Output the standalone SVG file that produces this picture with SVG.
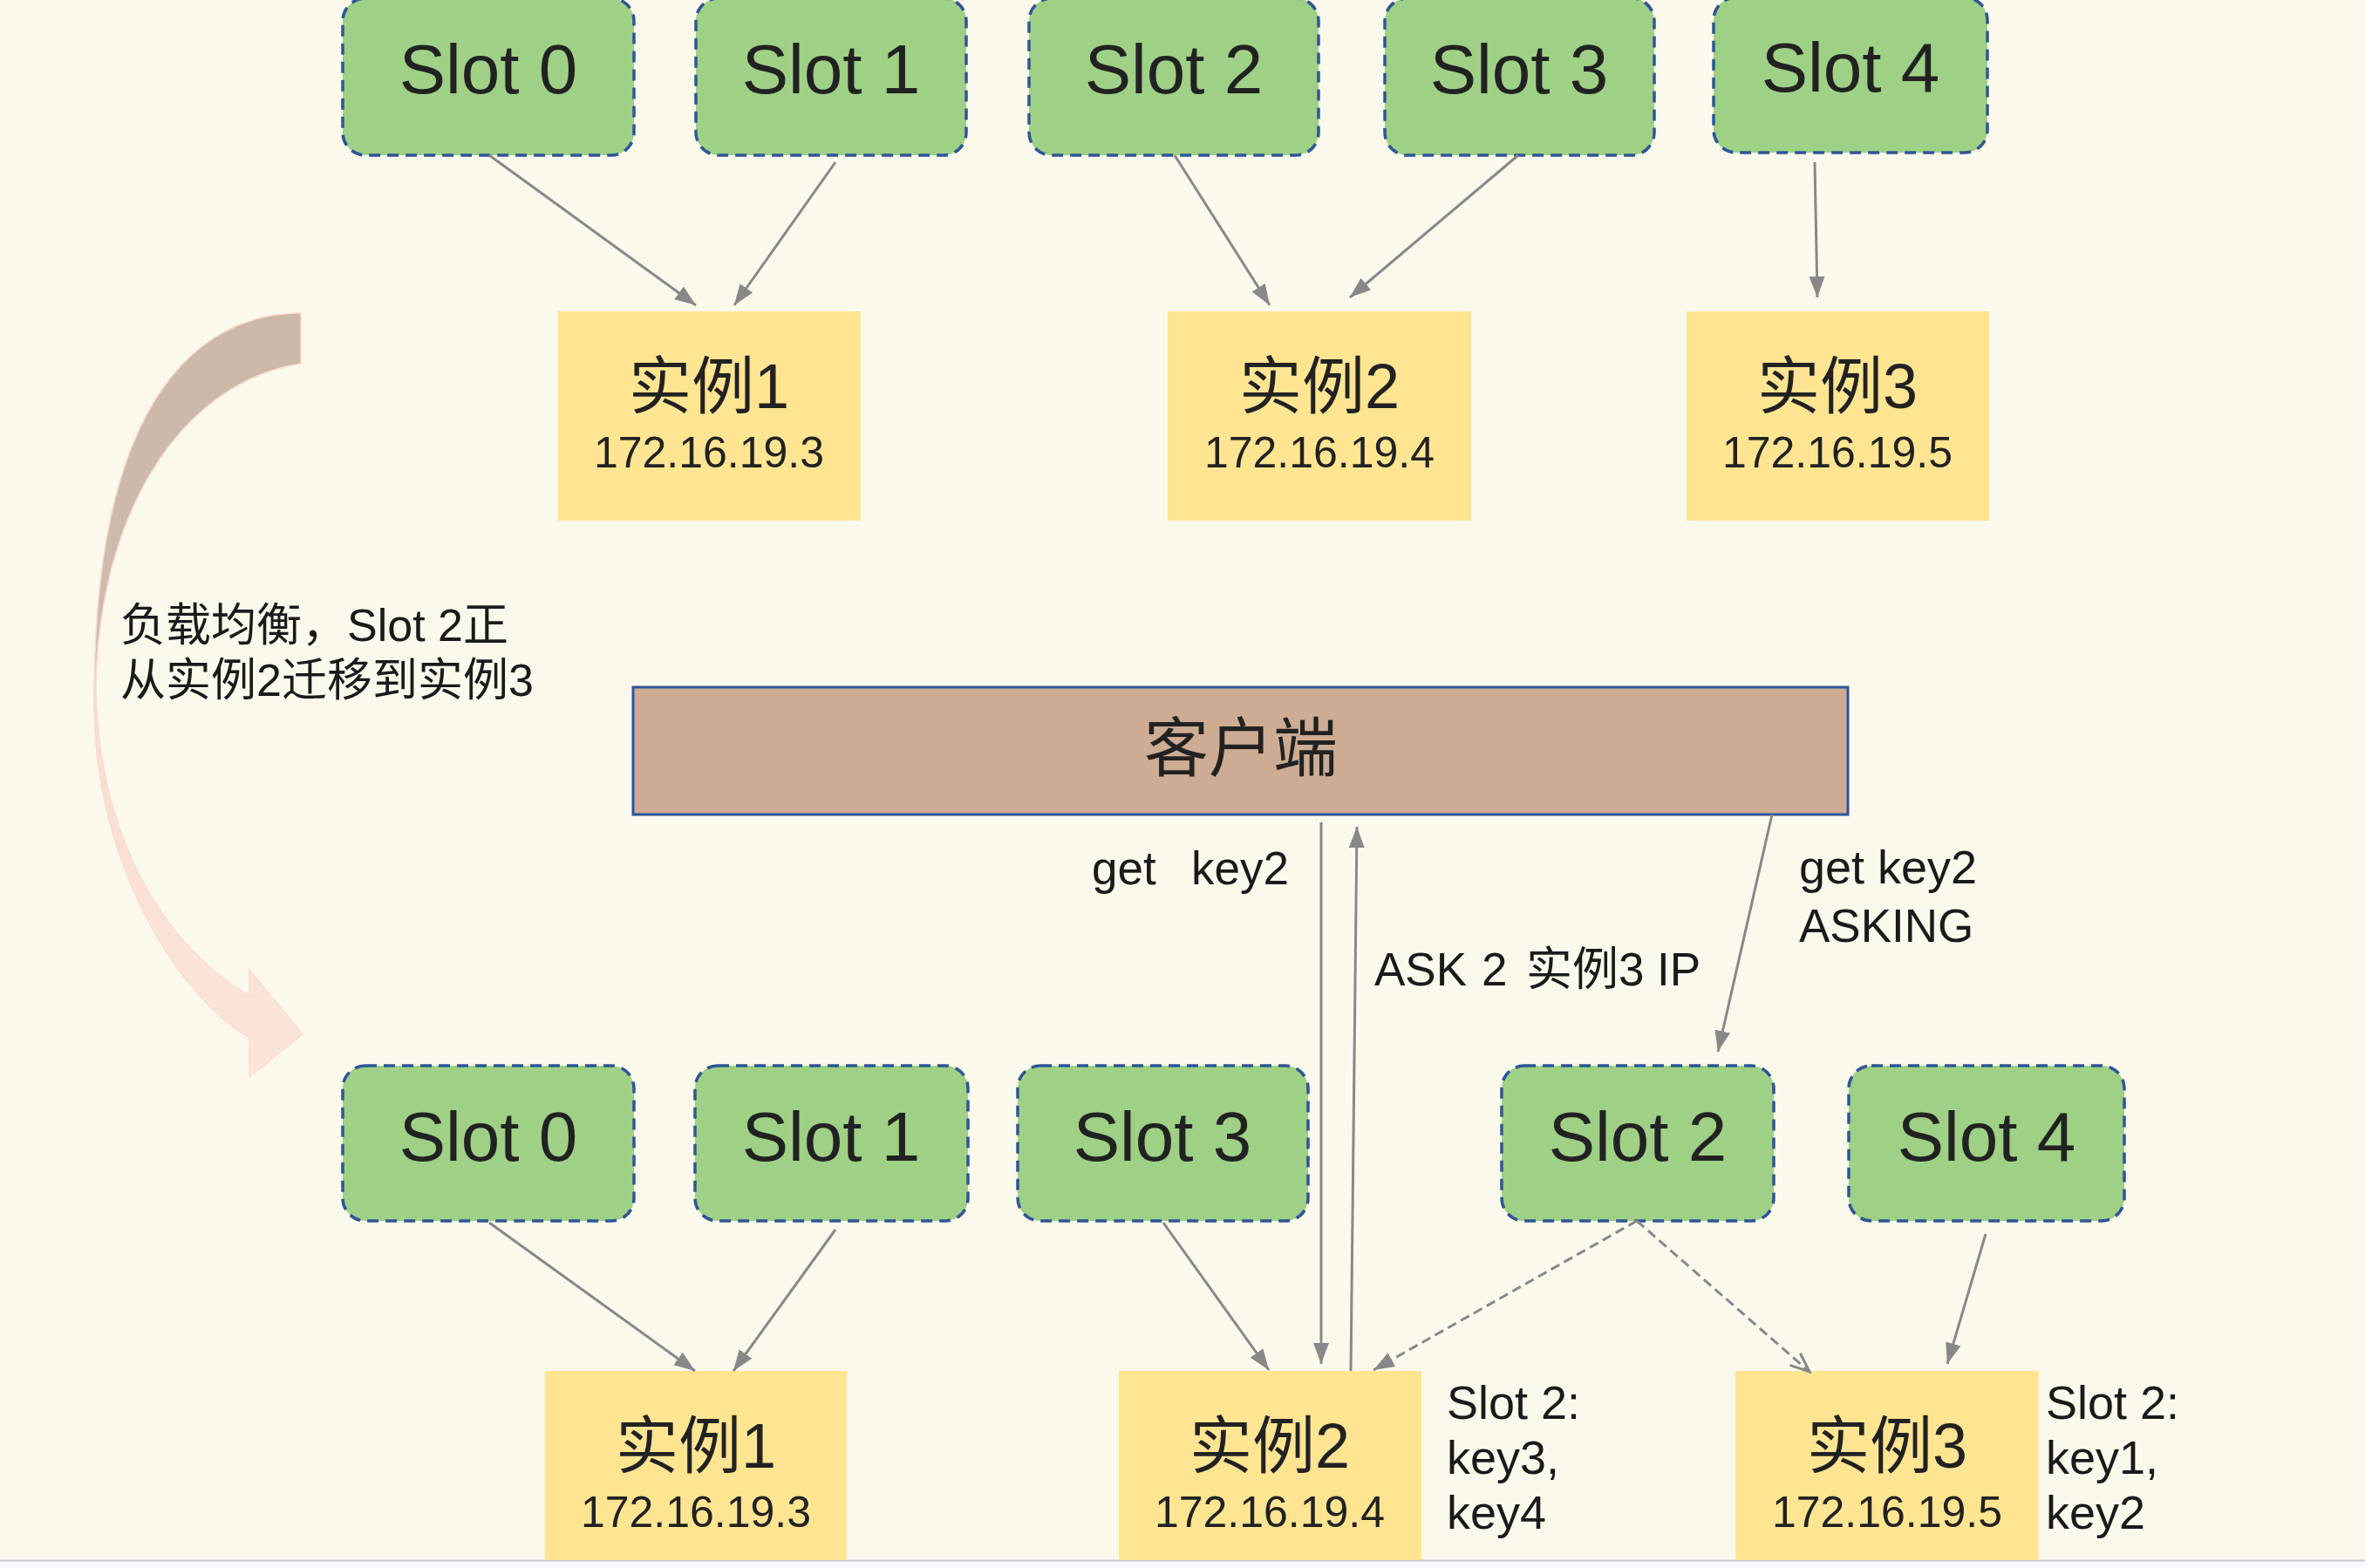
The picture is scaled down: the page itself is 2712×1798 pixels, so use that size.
<svg xmlns="http://www.w3.org/2000/svg" width="2712" height="1798" viewBox="0 0 2712 1798">
<defs>
<style>
.bg{fill:#FBF9EC}
.slot rect{fill:#9ED186;stroke:#2F5597;stroke-width:3.5;stroke-dasharray:13 8}
.slot text{font-family:"Liberation Sans","Noto Sans CJK SC",sans-serif;font-size:80px;fill:#222;text-anchor:middle}
.inst rect{fill:#FFE592}
.inst .n{font-family:"Liberation Sans","Noto Sans CJK SC",sans-serif;font-size:72px;fill:#222;text-anchor:middle}
.inst .ip{font-family:"Liberation Sans","Noto Sans CJK SC",sans-serif;font-size:50px;fill:#222;text-anchor:middle}
.lbl{font-family:"Liberation Sans","Noto Sans CJK SC",sans-serif;font-size:53px;fill:#1a1a1a}
.kv{font-family:"Liberation Sans","Noto Sans CJK SC",sans-serif;font-size:54px;fill:#1a1a1a}
.note{font-family:"Liberation Sans","Noto Sans CJK SC",sans-serif;font-size:52px;fill:#1a1a1a}
.c{stroke:#888;stroke-width:3;fill:none;marker-end:url(#ah)}
.d{stroke:#888;stroke-width:3;fill:none;stroke-dasharray:11 6}
</style>
<marker id="ah" markerUnits="userSpaceOnUse" markerWidth="26" markerHeight="20" refX="24" refY="10" orient="auto">
<path d="M0,1 L24,10 L0,19 Z" fill="#888"/>
</marker>
<marker id="ao" markerUnits="userSpaceOnUse" markerWidth="26" markerHeight="22" refX="23" refY="11" orient="auto">
<path d="M1,2 L23,11 L1,20" fill="none" stroke="#888" stroke-width="3" stroke-dasharray="none"/>
</marker>
<linearGradient id="cg" gradientUnits="userSpaceOnUse" x1="0" y1="359" x2="0" y2="1235">
<stop offset="0" stop-color="#CCB8A9"/>
<stop offset="0.42" stop-color="#CFBBAD"/>
<stop offset="0.52" stop-color="#F6DDD0"/>
<stop offset="1" stop-color="#FDE5DA"/>
</linearGradient>
</defs>
<rect class="bg" x="0" y="0" width="2712" height="1789"/>
<rect x="0" y="1789" width="2712" height="9" fill="#F8F9FC"/>
<line x1="0" y1="1789.5" x2="2712" y2="1789.5" stroke="#C4C9D4" stroke-width="2"/>

<g id="migration-arrow">
<path d="M345,359 C240,359 108,440 108,800 C105,980 200,1140 286,1190 L286,1235 L347,1186 L286,1112 L286,1142 C200,1090 115,980 110,790 C112,600 200,440 345,417 Z" fill="url(#cg)" stroke="#FBDCCF" stroke-width="1.5"/>
<text class="note" x="138" y="735">负载均衡，Slot 2正</text>
<text class="note" x="138" y="798">从实例2迁移到实例3</text>
</g>

<g id="top-slot0" class="slot"><rect x="393" y="-2" width="334" height="180" rx="26"/><text x="560" y="107">Slot 0</text></g>
<g id="top-slot1" class="slot"><rect x="798" y="-2" width="310" height="180" rx="26"/><text x="953" y="107">Slot 1</text></g>
<g id="top-slot2" class="slot"><rect x="1180" y="-2" width="332" height="180" rx="26"/><text x="1346" y="107">Slot 2</text></g>
<g id="top-slot3" class="slot"><rect x="1588" y="-2" width="309" height="180" rx="26"/><text x="1742" y="107">Slot 3</text></g>
<g id="top-slot4" class="slot"><rect x="1965" y="-3" width="314" height="178" rx="26"/><text x="2122" y="105">Slot 4</text></g>

<g id="top-inst1" class="inst"><rect x="640" y="357" width="347" height="240"/><text class="n" x="813" y="468">实例1</text><text class="ip" x="813" y="536">172.16.19.3</text></g>
<g id="top-inst2" class="inst"><rect x="1339" y="357" width="348" height="240"/><text class="n" x="1513" y="468">实例2</text><text class="ip" x="1513" y="536">172.16.19.4</text></g>
<g id="top-inst3" class="inst"><rect x="1934" y="357" width="347" height="240"/><text class="n" x="2107" y="468">实例3</text><text class="ip" x="2107" y="536">172.16.19.5</text></g>

<g id="client"><rect x="726" y="788" width="1393" height="146" fill="#CDAC93" stroke="#2F5597" stroke-width="3"/><text x="1423" y="884" font-family="Liberation Sans,Noto Sans CJK SC,sans-serif" font-size="74" fill="#222" text-anchor="middle">客户端</text></g>

<g id="bot-slot0" class="slot"><rect x="393" y="1222" width="334" height="178" rx="26"/><text x="560" y="1331">Slot 0</text></g>
<g id="bot-slot1" class="slot"><rect x="797" y="1222" width="313" height="178" rx="26"/><text x="953" y="1331">Slot 1</text></g>
<g id="bot-slot3" class="slot"><rect x="1167" y="1222" width="333" height="178" rx="26"/><text x="1333" y="1331">Slot 3</text></g>
<g id="bot-slot2" class="slot"><rect x="1722" y="1222" width="312" height="178" rx="26"/><text x="1878" y="1331">Slot 2</text></g>
<g id="bot-slot4" class="slot"><rect x="2120" y="1222" width="316" height="178" rx="26"/><text x="2278" y="1331">Slot 4</text></g>

<g id="bot-inst1" class="inst"><rect x="625" y="1572" width="346" height="217"/><text class="n" x="798" y="1683">实例1</text><text class="ip" x="798" y="1751">172.16.19.3</text></g>
<g id="bot-inst2" class="inst"><rect x="1283" y="1572" width="347" height="217"/><text class="n" x="1456" y="1683">实例2</text><text class="ip" x="1456" y="1751">172.16.19.4</text></g>
<g id="bot-inst3" class="inst"><rect x="1990" y="1572" width="348" height="217"/><text class="n" x="2164" y="1683">实例3</text><text class="ip" x="2164" y="1751">172.16.19.5</text></g>

<g id="connectors">
<line class="c" x1="561" y1="178" x2="798" y2="350"/>
<line class="c" x1="958" y1="186" x2="842" y2="350"/>
<line class="c" x1="1347" y1="178" x2="1456" y2="350"/>
<line class="c" x1="1741" y1="178" x2="1548" y2="341"/>
<line class="c" x1="2081" y1="186" x2="2084" y2="341"/>
<line class="c" x1="1515" y1="943" x2="1515" y2="1564"/>
<line class="c" x1="1549" y1="1572" x2="1556" y2="948"/>
<line class="c" x1="2032" y1="934" x2="1970" y2="1206"/>
<line class="c" x1="561" y1="1402" x2="797" y2="1572"/>
<line class="c" x1="958" y1="1410" x2="841" y2="1572"/>
<line class="c" x1="1334" y1="1402" x2="1455" y2="1571"/>
<line class="d" x1="1877" y1="1400" x2="1575" y2="1571" marker-end="url(#ah)"/>
<line class="d" x1="1877" y1="1400" x2="2075" y2="1573" marker-end="url(#ao)"/>
<line class="c" x1="2277" y1="1415" x2="2233" y2="1564"/>
</g>

<g id="labels">
<text class="lbl" x="1252" y="1014">get<tspan x="1366">key2</tspan></text>
<text class="lbl" x="1576" y="1130">ASK<tspan x="1699">2</tspan><tspan x="1750">实例3</tspan><tspan x="1900">IP</tspan></text>
<text class="kv" x="2063" y="1013">get key2</text>
<text class="lbl" x="2063" y="1080">ASKING</text>
<text class="kv" x="1659" y="1627">Slot 2:</text>
<text class="kv" x="1659" y="1690">key3,</text>
<text class="kv" x="1659" y="1753">key4</text>
<text class="kv" x="2346" y="1627">Slot 2:</text>
<text class="kv" x="2346" y="1690">key1,</text>
<text class="kv" x="2346" y="1753">key2</text>
</g>
</svg>
